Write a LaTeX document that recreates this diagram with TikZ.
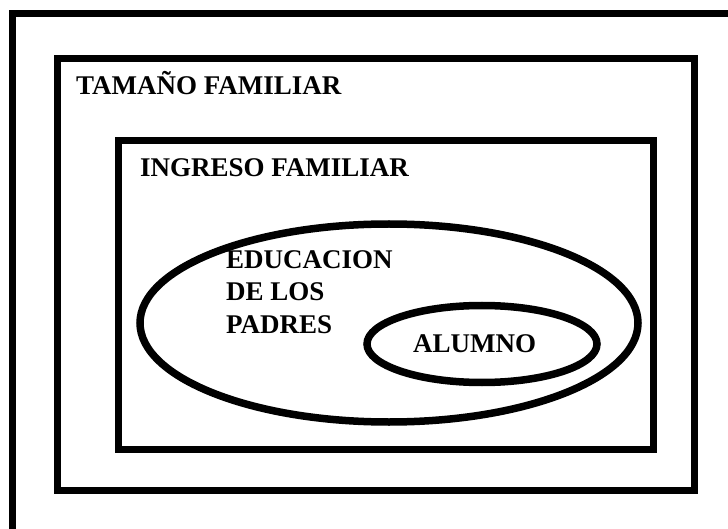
\documentclass[tikz,border=0pt]{standalone}
\usepackage{fontspec}
\setmainfont{Liberation Serif}
\begin{document}
\begin{tikzpicture}[x=1pt,y=-1pt,
  frame/.style={draw=black,line width=7pt},
  oval/.style={draw=black,line width=7.5pt},
  lbl/.style={inner sep=0pt,anchor=base west,font=\fontsize{27}{32}\selectfont\bfseries}]
\useasboundingbox (0,0) rectangle (728,529);
\fill[white] (0,0) rectangle (728,529);
\clip (0,0) rectangle (728,529);
% outer frame (runs off the right and bottom edges)
\draw[frame] (12,13.5) rectangle (760,560);
% family size frame
\draw[frame] (57,58.5) rectangle (694,490);
% family income frame
\draw[frame] (118.5,141) rectangle (653,449);
% parents' education
\draw[oval] (389,323) ellipse [x radius=249, y radius=99];
% student
\draw[oval] (482,344) ellipse [x radius=115, y radius=38.5];
% labels
\node[lbl] (tam) at (76,95) {TAMAÑO FAMILIAR};
\node[lbl] (ing) at (140,177) {INGRESO FAMILIAR};
\node[lbl] (edu1) at (226,269) {EDUCACION};
\node[lbl] (edu2) at (226,300.5) {DE LOS};
\node[lbl] (edu3) at (226,333) {PADRES};
\node[lbl] (alu) at (413,352) {ALUMNO};
\end{tikzpicture}
\end{document}
